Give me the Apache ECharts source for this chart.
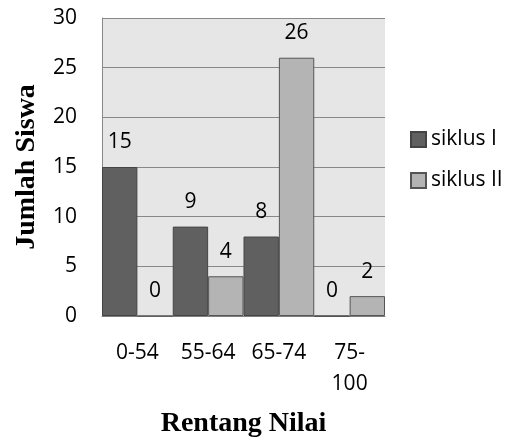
<!DOCTYPE html>
<html><head><meta charset="utf-8">
<script src="https://cdn.jsdelivr.net/npm/echarts@6/dist/echarts.min.js"></script>
<style>html,body{margin:0;padding:0;background:#fff}#c{width:517px;height:439px}</style>
</head><body><div id="c"></div>
<script>
const categories = ['0-54', '55-64', '65-74', '75-\n100'];
const siklusI = [15, 9, 8, 0];
const siklusII = [0, 4, 26, 2];
const seriesNames = ['siklus I', 'siklus II'];

const font = '"Open Sans", sans-serif';
const serif = '"Liberation Serif", "DejaVu Serif", serif';
const chart = echarts.init(document.getElementById('c'), null, {renderer: 'canvas'});
const lbl = {show: true, position: 'top', distance: 14, color: '#000', fontFamily: font, fontSize: 21};
chart.setOption({
  animation: false,
  grid: {left: 102, right: 132, top: 18, bottom: 123, show: true, backgroundColor: '#e6e6e6', borderWidth: 0,
         outerBoundsMode: 'none', containLabel: false},
  legend: {
    orient: 'vertical', left: 405, top: 124, itemWidth: 15, itemHeight: 15, itemGap: 20, icon: 'rect',
    textStyle: {fontFamily: font, fontSize: 21, color: '#000'},
    data: seriesNames
  },
  xAxis: {
    type: 'category', data: categories,
    name: 'Rentang Nilai', nameLocation: 'middle', nameGap: 94,
    nameTextStyle: {fontFamily: serif, fontWeight: 'bold', fontSize: 28, color: '#000'},
    axisLine: {lineStyle: {color: '#808080'}}, axisTick: {show: false},
    axisLabel: {fontFamily: font, fontSize: 21, color: '#000', margin: 22, lineHeight: 31, interval: 0}
  },
  yAxis: {
    type: 'value', min: 0, max: 30, interval: 5,
    name: 'Jumlah Siswa', nameLocation: 'middle', nameGap: 61, nameRotate: 90,
    nameTextStyle: {fontFamily: serif, fontWeight: 'bold', fontSize: 28, color: '#000'},
    axisLine: {show: true, lineStyle: {color: '#888'}}, axisTick: {show: false},
    axisLabel: {fontFamily: font, fontSize: 21, color: '#000', margin: 25},
    splitLine: {lineStyle: {color: '#888', width: 1}}
  },
  series: [
    {name: seriesNames[0], type: 'bar', data: siklusI, barGap: '0%', barCategoryGap: '0%',
     itemStyle: {color: '#606060', borderColor: '#444', borderWidth: 1}, label: lbl},
    {name: seriesNames[1], type: 'bar', data: siklusII, barGap: '0%', barCategoryGap: '0%',
     itemStyle: {color: '#b4b4b4', borderColor: '#555', borderWidth: 1}, label: lbl}
  ]
});
</script></body></html>
